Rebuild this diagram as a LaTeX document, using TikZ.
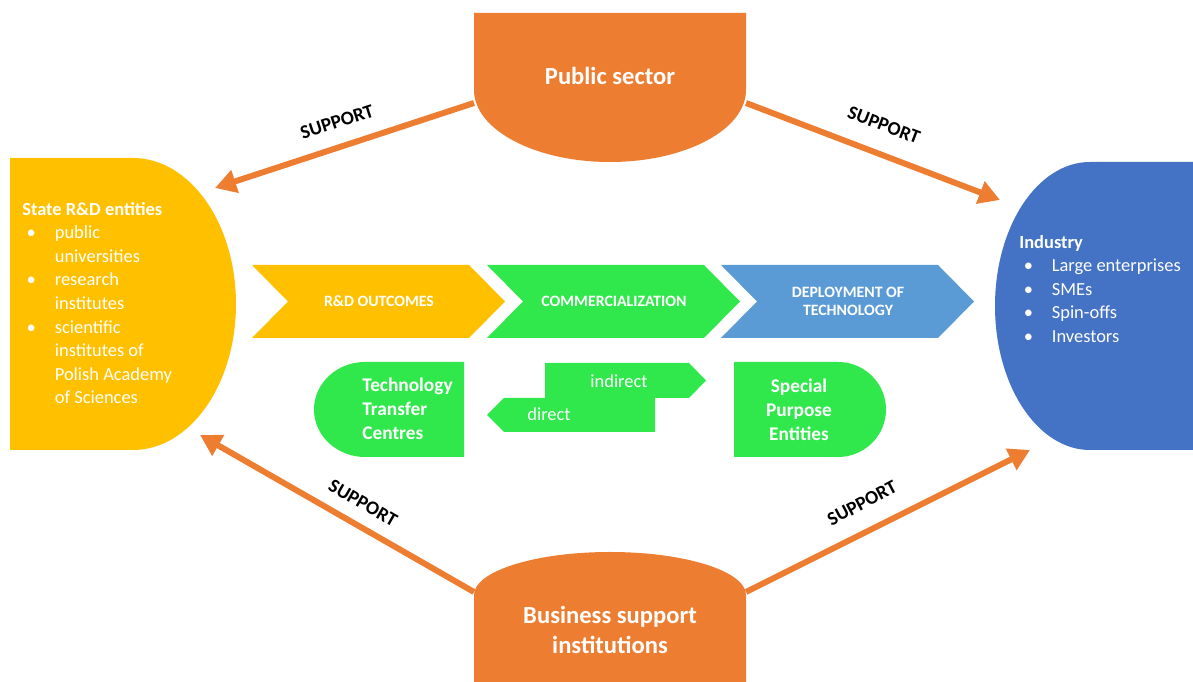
\documentclass[tikz,border=0pt]{standalone}
\usepackage{fontspec}
\setmainfont{Carlito}
\usetikzlibrary{arrows.meta}
\definecolor{orng}{RGB}{237,125,49}
\definecolor{yllw}{RGB}{255,192,0}
\definecolor{grn}{RGB}{48,232,76}
\definecolor{lblue}{RGB}{91,155,213}
\definecolor{dblue}{RGB}{68,114,196}
\newcommand{\itm}[1]{\makebox[18.5pt][l]{\hspace{2.5pt}\textbullet}#1}
\newcommand{\cnt}[1]{\hspace*{18.5pt}#1}
\tikzset{
  supp/.style={orng, line width=3.4pt, -{Triangle[length=12pt,width=13pt]}},
  supptxt/.style={font=\bfseries\fontsize{11}{13}\selectfont, inner sep=0pt},
  wtxt/.style={text=white, inner sep=0pt},
  chevtxt/.style={wtxt, font=\bfseries\fontsize{9}{10.5}\selectfont, align=center},
  big/.style={wtxt, font=\bfseries\fontsize{14}{17}\selectfont, align=center},
  lst/.style={wtxt, anchor=north west, align=left, font=\fontsize{10.5}{13.4}\selectfont}
}
\begin{document}
\begin{tikzpicture}[x=0.02cm,y=0.02cm]
  \useasboundingbox (0,0) rectangle (1193,682);
  \fill[orng] (474,669)--(746,669)--(746,592) arc[start angle=0,end angle=-180,x radius=136,y radius=72]--cycle;
  \fill[orng] (474,0)--(474,87) arc[start angle=180,end angle=0,x radius=136,y radius=43]--(746,0)--cycle;
  \fill[yllw] (10,232)--(10,524)--(133,524) arc[start angle=90,end angle=-90,x radius=103,y radius=146]--cycle;
  \fill[dblue] (1193,520)--(1090,520) arc[start angle=90,end angle=270,x radius=95,y radius=144]--(1193,232)--cycle;
  \node[big] (pub) at (610,606) {Public sector};
  \node[big] (bsi) at (610,52) {Business support\\institutions};
  \node[lst] (rd) at (22,480) {\textbf{State R\&D entities}\\
    \itm{public}\\ \cnt{universities}\\ \itm{research}\\ \cnt{institutes}\\
    \itm{scientific}\\ \cnt{institutes of}\\ \cnt{Polish Academy}\\ \cnt{of Sciences}};
  \node[lst] (ind) at (1019,447) {\textbf{Industry}\\
    \itm{Large enterprises}\\ \itm{SMEs}\\ \itm{Spin-offs}\\ \itm{Investors}};

  \foreach \x/\c/\t/\n in {252/yllw/{R\&D OUTCOMES}/out, 487/grn/{COMMERCIALIZATION}/com, 721/lblue/{DEPLOYMENT OF\\TECHNOLOGY}/dep}{
    \fill[\c] (\x,417)--(\x+217,417)--(\x+253,380.5)--(\x+217,344)--(\x,344)--(\x+36,380.5)--cycle;
    \node[chevtxt] (\n) at (\x+127,380.5) {\t};
  }

  \fill[grn] (464,320)--(365,320) arc[start angle=90,end angle=270,x radius=51,y radius=47.5]--(464,225)--cycle;
  \fill[grn] (734,225)--(734,320)--(838,320) arc[start angle=90,end angle=-90,x radius=48,y radius=47.5]--cycle;
  \fill[grn] (545,319)--(689,319)--(706,301.5)--(689,284)--(545,284)--cycle;
  \fill[grn] (655,284)--(655,250)--(504,250)--(487,267)--(504,284)--cycle;
  \node[wtxt, font=\bfseries\fontsize{11}{13.7}\selectfont, align=left, anchor=west] (ttc) at (362,273) {Technology\\Transfer\\Centres};
  \node[wtxt, font=\bfseries\fontsize{11}{13.7}\selectfont, align=center] (spe) at (799,272) {Special\\Purpose\\Entities};
  \node[wtxt, font=\fontsize{10.5}{12}\selectfont] (indir) at (619,301) {indirect};
  \node[wtxt, font=\fontsize{10.5}{12}\selectfont] (dir) at (549,268) {direct};

  \coordinate (pubL) at (474,579);
  \coordinate (pubR) at (746,579);
  \coordinate (bsiL) at (474,90);
  \coordinate (bsiR) at (746,90);
  \coordinate (rdT) at (215,494);
  \coordinate (rdB) at (200,247);
  \coordinate (indT) at (1000,482);
  \coordinate (indB) at (1030,232);
  \draw[supp] (pubL)--(rdT);
  \draw[supp] (pubR)--(indT);
  \draw[supp] (bsiL)--(rdB);
  \draw[supp] (bsiR)--(indB);
  \node[supptxt, rotate=18] (s1) at (337,560) {SUPPORT};
  \node[supptxt, rotate=-21] (s2) at (884,557) {SUPPORT};
  \node[supptxt, rotate=-30] (s3) at (363,179) {SUPPORT};
  \node[supptxt, rotate=28] (s4) at (862,179) {SUPPORT};
\end{tikzpicture}
\end{document}
